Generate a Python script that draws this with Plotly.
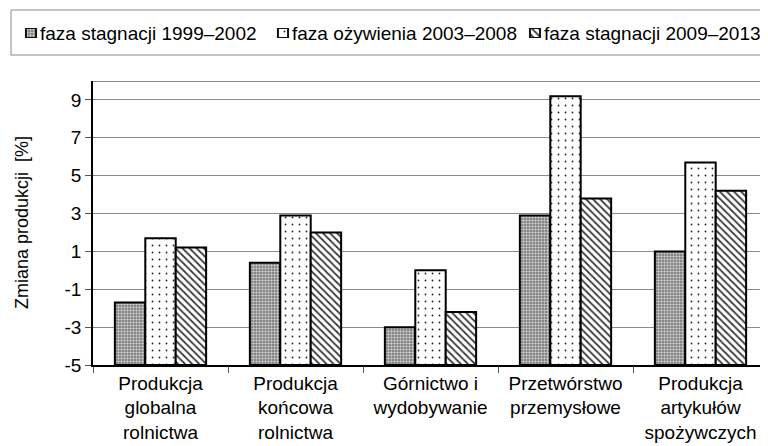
import plotly.graph_objects as go

# ---- data ----
categories = [
    "Produkcja<br>globalna<br>rolnictwa",
    "Produkcja<br>końcowa<br>rolnictwa",
    "Górnictwo i<br>wydobywanie",
    "Przetwórstwo<br>przemysłowe",
    "Produkcja<br>artykułów<br>spożywczych",
]
series_names = [
    "faza stagnacji 1999–2002",
    "faza ożywienia 2003–2008",
    "faza stagnacji 2009–2013",
]
stagnacja_1999_2002 = [-1.7, 0.4, -3.0, 2.9, 1.0]
ozywienie_2003_2008 = [1.7, 2.9, 0.0, 9.2, 5.7]
stagnacja_2009_2013 = [1.2, 2.0, -2.2, 3.8, 4.2]
y_ticks = [-5, -3, -1, 1, 3, 5, 7, 9]
y_tick_labels = [str(v) for v in y_ticks]
y_title = "Zmiana produkcji \u00a0[%]"

AXIS_MIN = -5
AXIS_MAX = 10

# ---- styles ----
FONT = '"Liberation Sans", Arial, sans-serif'
patterns = [
    dict(shape=".", bgcolor="#6e6e6e", fgcolor="#cccccc", size=3, solidity=0.5, fillmode="replace"),
    dict(shape=".", bgcolor="#ffffff", fgcolor="#222222", size=7, solidity=0.05, fillmode="replace"),
    dict(shape="\\", bgcolor="#ffffff", fgcolor="#3a3a3a", size=5, solidity=0.35, fillmode="replace"),
]
all_series = [stagnacja_1999_2002, ozywienie_2003_2008, stagnacja_2009_2013]

# page has an 8px body margin: the figure occupies window pixels 8..768 x 8..446
OFF = 8
W, H = 768 - OFF, 446 - OFF


def px_x(x):
    return (x - OFF) / W


def px_y(y):
    return 1 - (y - OFF) / H


x_left = px_x(93)
y_bot = px_y(365)
y_top = px_y(81)

fig = go.Figure()

for name, vals, pat in zip(series_names, all_series, patterns):
    fig.add_trace(go.Bar(
        x=categories,
        y=[v - AXIS_MIN for v in vals],
        base=AXIS_MIN,
        name=name,
        customdata=vals,
        hovertemplate="%{x}: %{customdata}<extra>" + name + "</extra>",
        marker=dict(color="white", pattern=pat, line=dict(color="black", width=2)),
        showlegend=False,
        xaxis="x", yaxis="y",
    ))

# custom legend symbols (pattern-filled bars on a hidden helper axis)
for name, pat in zip(series_names, patterns):
    fig.add_trace(go.Bar(
        x=[name], y=[1], base=0, width=0.04, offset=-0.02,
        marker=dict(color="white", pattern=pat, line=dict(color="#111111", width=2)),
        showlegend=False, hoverinfo="skip",
        xaxis="x2", yaxis="y2",
    ))

annotations = []
for name in series_names:
    annotations.append(dict(
        x=name, y=0.5, xref="x2", yref="y2", text=name, showarrow=False,
        xanchor="left", yanchor="middle", xshift=7,
        font=dict(family=FONT, size=19, color="black"),
    ))
annotations.append(dict(
    x=px_x(22), y=(y_bot + y_top) / 2, xref="paper", yref="paper", text=y_title,
    textangle=-90, showarrow=False, xanchor="center", yanchor="middle",
    font=dict(family=FONT, size=18, color="black"),
))

shapes = [
    # legend box
    dict(type="rect", xref="paper", yref="paper",
         x0=px_x(11), x1=1.05, y0=px_y(55), y1=px_y(10),
         line=dict(color="#8a8a8a", width=1), fillcolor="rgba(0,0,0,0)", layer="below"),
    # top border of plot area
    dict(type="line", xref="paper", yref="y", x0=x_left, x1=1, y0=AXIS_MAX, y1=AXIS_MAX,
         line=dict(color="#8a8a8a", width=2)),
]

legend_center_px = 31 - OFF
legend_step_px = 252

fig.update_layout(
    width=W, height=H,
    margin=dict(l=0, r=0, t=0, b=0, autoexpand=False),
    paper_bgcolor="white", plot_bgcolor="white",
    barmode="group", bargap=0.324, bargroupgap=0,
    font=dict(family=FONT, size=19, color="black"),
    showlegend=False,
    xaxis=dict(
        domain=[x_left, 1], anchor="y", automargin=False,
        type="category", categoryorder="array", categoryarray=categories,
        showline=True, linecolor="black", linewidth=1.5,
        ticks="outside", tickson="boundaries", ticklen=6, tickcolor="#555555",
        showgrid=False, tickfont=dict(family=FONT, size=19, color="black"),
    ),
    yaxis=dict(
        domain=[y_bot, y_top], anchor="x", automargin=False,
        range=[AXIS_MIN, AXIS_MAX], tickvals=y_ticks, ticktext=y_tick_labels,
        showline=True, linecolor="black", linewidth=1.5,
        ticks="outside", ticklen=6, tickcolor="#555555",
        showgrid=True, gridcolor="#8a8a8a", gridwidth=1, zeroline=False,
        tickfont=dict(family=FONT, size=19, color="black"),
    ),
    xaxis2=dict(
        domain=[0, 1], anchor="y2", type="category", automargin=False,
        categoryorder="array", categoryarray=series_names,
        range=[-legend_center_px / legend_step_px, (W - legend_center_px) / legend_step_px],
        visible=False, fixedrange=True,
    ),
    yaxis2=dict(
        domain=[px_y(38), px_y(28)], anchor="x2", automargin=False,
        range=[0, 1], visible=False, fixedrange=True,
    ),
    annotations=annotations,
    shapes=shapes,
)

fig.write_html("out.html")
